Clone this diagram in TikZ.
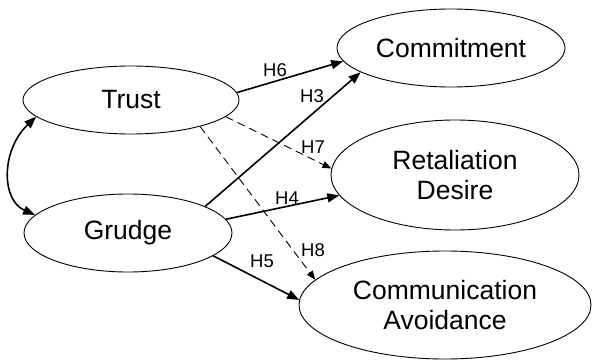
\documentclass[tikz,border=0pt]{standalone}
\usepackage{fontspec}
\setmainfont{Liberation Sans}
\usetikzlibrary{shapes.geometric,arrows.meta}
\begin{document}
\begin{tikzpicture}[x=1pt,y=-1pt,
  latent/.style={draw,ellipse,line width=0.9pt,inner sep=0pt,align=center,font=\fontsize{26.5}{29.5}\selectfont},
  hpath/.style={line width=1.6pt,-{Triangle[length=12pt,width=9pt]}},
  dpath/.style={line width=0.9pt,dash pattern=on 8pt off 5pt,-{Triangle[length=9pt,width=7pt]}},
  hlab/.style={font=\fontsize{18.5}{18.5}\selectfont,inner sep=0pt}]
\useasboundingbox (0,0) rectangle (594,361);
\node[latent,minimum width=216pt,minimum height=68pt] (trust) at (131,100) {Trust};
\node[latent,minimum width=208pt,minimum height=78pt] (grudge) at (128,233) {Grudge};
\node[latent,minimum width=228pt,minimum height=78pt] (commit) at (451,48) {Commitment};
\node[latent,minimum width=248pt,minimum height=110pt] (retal) at (455,175) {Retaliation\\Desire};
\node[latent,minimum width=292pt,minimum height=108pt] (avoid) at (445,305) {Communication\\Avoidance};

\draw[hpath] (trust.4) -- (commit.187.7);
\draw[hpath] (grudge.19.6) -- (commit.195.8);
\draw[dpath] (trust.-10) -- (retal.177);
\draw[hpath] (grudge.8) -- (retal.190.8);
\draw[dpath] (trust.-21.5) -- (avoid.169.3);
\draw[hpath] (grudge.-15.8) -- (avoid.178.4);
\draw[line width=1.6pt,{Triangle[length=12pt,width=9pt]}-{Triangle[length=12pt,width=9pt]}]
  (trust.190) .. controls (1,150) and (1,200) .. (grudge.169);

\node[hlab] (h6) at (275,70) {H6};
\node[hlab] (h3) at (312,96) {H3};
\node[hlab] (h7) at (313,147) {H7};
\node[hlab] (h4) at (287,198) {H4};
\node[hlab] (h8) at (313,250) {H8};
\node[hlab] (h5) at (262,261) {H5};
\end{tikzpicture}
\end{document}
